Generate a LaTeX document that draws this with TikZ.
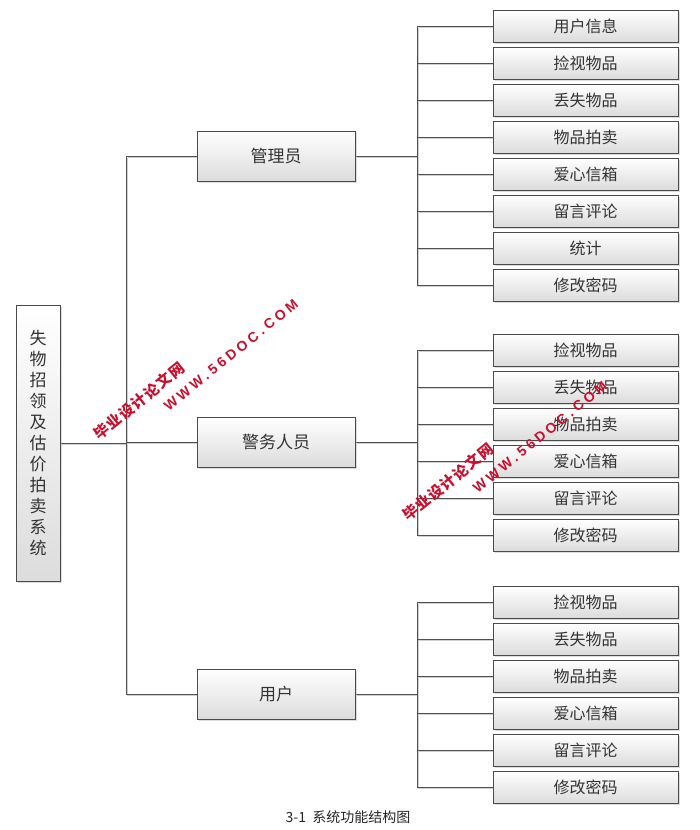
\documentclass[tikz,border=0pt]{standalone}
\usepackage{fontspec}
\setmainfont{Noto Sans CJK SC}
\newfontfamily\wmcjk[LetterSpace=8]{Noto Sans CJK SC}
\newfontfamily\wmlat[LetterSpace=25]{Liberation Sans}
\usetikzlibrary{shadows,backgrounds}
\definecolor{boxline}{HTML}{4A4A4A}
\definecolor{boxbot}{HTML}{DCDCDC}
\definecolor{linec}{HTML}{505050}
\definecolor{wm}{HTML}{C8102E}
\newcommand\myconnectors{%
  \draw (root.east) -- (root.east -| tk);
  \draw (m1.west -| tk) -- (m3.west -| tk);
  \foreach \m in {m1,m2,m3} \draw (\m.west) -- (\m.west -| tk);
  \draw (a1.west -| cm) -- (a8.west -| cm);
  \draw (b1.west -| cm) -- (b6.west -| cm);
  \draw (c1.west -| cm) -- (c6.west -| cm);
  \foreach \m in {m1,m2,m3} \draw (\m.east) -- (\m.east -| cm);
  \foreach \i in {1,...,8} \draw (a\i.west) -- (a\i.west -| cm);
  \foreach \i in {1,...,6} \draw (b\i.west) -- (b\i.west -| cm);
  \foreach \i in {1,...,6} \draw (c\i.west) -- (c\i.west -| cm);
}
\begin{document}
\begin{tikzpicture}[x=1pt,y=-1pt,
  box/.style={draw=boxline, line width=0.8pt, top color=white, bottom color=boxbot,
    drop shadow={shadow xshift=2pt, shadow yshift=-2pt, fill=black!30, opacity=0.45},
    inner sep=0pt, align=center, text=black!80},
  leaf/.style={box, minimum width=185pt, minimum height=32pt, font=\fontsize{16}{16}\selectfont},
  mid/.style={box, minimum width=158pt, minimum height=50pt, font=\fontsize{17}{17}\selectfont},
  rootbox/.style={box, minimum width=44pt, minimum height=276pt, font=\fontsize{17}{21}\selectfont},
  wmtext/.style={rotate=39, text=wm, inner sep=0pt}]
\useasboundingbox (0,0) rectangle (700,830);
\coordinate (tk) at (126,0);
\coordinate (cm) at (417,0);
\node[rootbox] (root) at (38,443) {失\\物\\招\\领\\及\\估\\价\\拍\\卖\\系\\统};
\node[mid] (m1) at (276,156) {管理员};
\node[mid] (m2) at (276,442) {警务人员};
\node[mid] (m3) at (276,694) {用户};
\foreach \t [count=\i] in {用户信息,捡视物品,丢失物品,物品拍卖,爱心信箱,留言评论,统计,修改密码}
  \node[leaf] (a\i) at (585.5,{26+37*(\i-1)}) {\t};
\foreach \t [count=\i] in {捡视物品,丢失物品,物品拍卖,爱心信箱,留言评论,修改密码}
  \node[leaf] (b\i) at (585.5,{350+37*(\i-1)}) {\t};
\foreach \t [count=\i] in {捡视物品,丢失物品,物品拍卖,爱心信箱,留言评论,修改密码}
  \node[leaf] (c\i) at (585.5,{602+37*(\i-1)}) {\t};
\begin{scope}[on background layer]
  \fill[white] (0,0) rectangle (700,830);
  \begin{scope}[transform canvas={xshift=1.6pt,yshift=-1.6pt}, draw=black!18, line width=0.8pt]
    \myconnectors
  \end{scope}
  \begin{scope}[draw=linec, line width=0.8pt]
    \myconnectors
  \end{scope}
\end{scope}
\node[font=\fontsize{14}{14}\selectfont, text=black!85] (cap) at (348,817) {3-1\ \ 系统功能结构图};
\node[wmtext, font=\wmcjk\bfseries\fontsize{15}{15}\selectfont] (wm1a) at (139,401) {毕业设计论文网};
\node[wmtext, font=\wmlat\bfseries\fontsize{14}{14}\selectfont] (wm1b) at (231,355) {WWW.56DOC.COM};
\node[wmtext, font=\wmcjk\bfseries\fontsize{15}{15}\selectfont] (wm2a) at (448,482) {毕业设计论文网};
\node[wmtext, font=\wmlat\bfseries\fontsize{14}{14}\selectfont] (wm2b) at (540,437) {WWW.56DOC.COM};
\end{tikzpicture}
\end{document}
